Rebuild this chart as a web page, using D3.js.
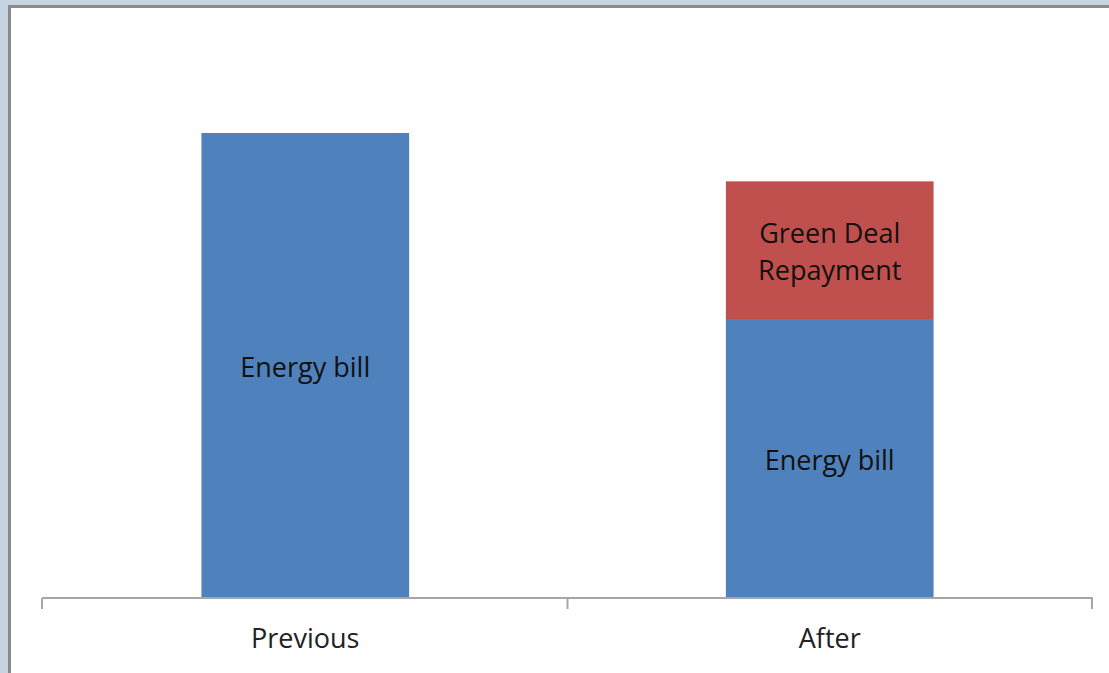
<!DOCTYPE html>
<html>
<head>
<meta charset="utf-8">
<script src="https://cdn.jsdelivr.net/npm/d3@7"></script>
<style>
  body { margin: 0; background: #c6d4e1; }
  svg { display: block; }
</style>
</head>
<body>
<div id="chart"></div>
<script>
// categories and stacked series
var categories = ["Previous", "After"]
var energyBill = [100, 60]
var greenDeal = [0, 29.6]
var seriesNames = ["Energy bill", "Green Deal Repayment"]

var width = 1109,
    height = 673

var svg = d3.select("#chart")
  .append("svg")
    .attr("width", width)
    .attr("height", height)

// frame of the chart area
svg.append("rect")
  .attr("x", 0).attr("y", 0)
  .attr("width", width).attr("height", height)
  .attr("fill", "#c6d4e1")
svg.append("rect")
  .attr("x", 8).attr("y", 5)
  .attr("width", width - 8).attr("height", height - 5)
  .attr("fill", "#8a8a8a")
svg.append("rect")
  .attr("x", 11).attr("y", 8)
  .attr("width", width - 11).attr("height", height - 8)
  .attr("fill", "#ffffff")

var x = d3.scaleBand()
  .domain(categories)
  .range([42, 1093])
  .paddingInner(0.604)
  .paddingOuter(0.304)

var y = d3.scaleLinear()
  .domain([0, 100])
  .range([598, 133])

var rows = categories.map(function(c, i) {
  return { cat: c, energy: energyBill[i], green: greenDeal[i] }
})
var stack = d3.stack().keys(["energy", "green"])
var layers = stack(rows)
var colors = { energy: "#4f81bd", green: "#c0504d" }
var labels = { energy: ["Energy bill"], green: ["Green Deal", "Repayment"] }

var g = svg.append("g")

layers.forEach(function(layer) {
  var key = layer.key
  var segs = layer.filter(function(d) { return d[1] - d[0] > 0 })

  g.selectAll(".bar-" + key)
    .data(segs)
    .enter()
    .append("rect")
      .attr("x", function(d) { return x(d.data.cat) })
      .attr("y", function(d) { return y(d[1]) })
      .attr("width", x.bandwidth())
      .attr("height", function(d) { return y(d[0]) - y(d[1]) })
      .attr("fill", colors[key])

  var txt = g.selectAll(".lbl-" + key)
    .data(segs)
    .enter()
    .append("text")
      .attr("text-anchor", "middle")
      .style("font-family", "'Open Sans', sans-serif")
      .style("font-size", "27px")
      .attr("fill", "#111")
      .attr("transform", function(d) {
        var cy = (y(d[0]) + y(d[1])) / 2
        return "translate(" + (x(d.data.cat) + x.bandwidth() / 2) + "," + cy + ")"
      })
  var lines = labels[key]
  lines.forEach(function(line, i) {
    txt.append("tspan")
      .attr("x", 0)
      .attr("y", (i - (lines.length - 1) / 2) * 37)
      .attr("dy", "0.42em")
      .text(line)
  })
})

// x axis
var axis = d3.axisBottom(x)
  .tickSize(0)
  .tickPadding(31)

var ax = svg.append("g")
  .attr("transform", "translate(0,598)")
  .call(axis)
ax.select(".domain").remove()
ax.selectAll("text")
  .style("font-family", "'Open Sans', sans-serif")
  .style("font-size", "27px")
  .attr("fill", "#222")

ax.append("line")
  .attr("x1", 42).attr("x2", 1093)
  .attr("y1", 0).attr("y2", 0)
  .attr("stroke", "#a6a6a6")
  .attr("stroke-width", 2)

// tick marks sit on the band boundaries
var bounds = [42].concat(categories.map(function(c) { return x(c) + x.bandwidth() / 2 + x.step() / 2 }))
ax.selectAll(".sep")
  .data(bounds)
  .enter()
  .append("line")
    .attr("x1", function(d) { return d }).attr("x2", function(d) { return d })
    .attr("y1", 0).attr("y2", 11)
    .attr("stroke", "#a6a6a6")
    .attr("stroke-width", 2)
</script>
</body>
</html>
